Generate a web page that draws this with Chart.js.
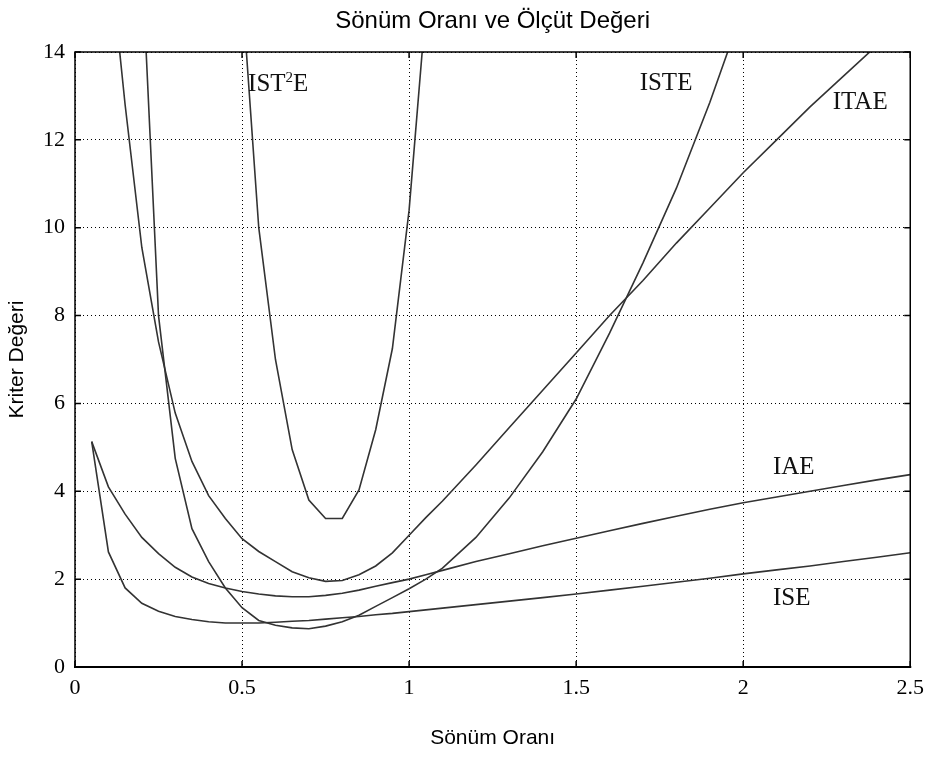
<!DOCTYPE html>
<html lang="tr">
<head>
<meta charset="utf-8">
<title>Sönüm Oranı ve Ölçüt Değeri</title>
<script src="https://cdn.jsdelivr.net/npm/chart.js@4.4.1/dist/chart.umd.min.js"></script>
<style>
  html, body { margin: 0; padding: 0; background: #fff; }
  #wrap { width: 932px; height: 762px; position: relative; }
</style>
</head>
<body>
<div id="wrap"><canvas id="criteria"></canvas></div>
<script>
// damping ratio samples (x axis)
const zeta = [0.05, 0.1, 0.15, 0.2, 0.25, 0.3, 0.35, 0.4, 0.45, 0.5,
              0.55, 0.6, 0.65, 0.7, 0.75, 0.8, 0.85, 0.9, 0.95, 1.0,
              1.05, 1.1, 1.2, 1.3, 1.4, 1.5, 1.6, 1.7, 1.8, 1.9,
              2.0, 2.1, 2.2, 2.3, 2.4, 2.5];

// performance index values for each criterion
const ise   = [5.13, 2.62, 1.8, 1.45, 1.27, 1.15, 1.08, 1.03, 1.0, 1.0,
               1.0, 1.02, 1.04, 1.06, 1.09, 1.12, 1.15, 1.19, 1.22, 1.26,
               1.30, 1.34, 1.42, 1.5, 1.58, 1.66, 1.75, 1.84, 1.93, 2.02,
               2.12, 2.21, 2.3, 2.4, 2.5, 2.6];
const iae   = [5.13, 4.1, 3.48, 2.95, 2.58, 2.27, 2.05, 1.9, 1.8, 1.72,
               1.66, 1.62, 1.6, 1.6, 1.63, 1.68, 1.75, 1.84, 1.92, 2.0,
               2.1, 2.2, 2.4, 2.58, 2.76, 2.93, 3.1, 3.27, 3.43, 3.59,
               3.74, 3.87, 4.0, 4.13, 4.26, 4.38];
const itae  = [null, 16.5, 12.8, 9.55, 7.4, 5.78, 4.68, 3.9, 3.38, 2.92,
               2.63, 2.4, 2.17, 2.03, 1.95, 1.97, 2.1, 2.3, 2.6, 3.0,
               3.4, 3.78, 4.6, 5.45, 6.3, 7.15, 8.0, 8.8, 9.65, 10.45,
               11.25, 12.0, 12.75, 13.45, 14.15, 14.9];
const iste  = [null, null, null, 16.1, 8.0, 4.75, 3.15, 2.4, 1.8, 1.35,
               1.06, 0.95, 0.89, 0.87, 0.93, 1.03, 1.18, 1.38, 1.58, 1.78,
               2.0, 2.25, 2.95, 3.85, 4.9, 6.1, 7.6, 9.2, 10.9, 12.85,
               15.0, null, null, null, null, null];
const ist2e = [null, null, null, null, null, null, null, null, null, 15.4,
               10.0, 7.0, 4.95, 3.8, 3.38, 3.38, 4.03, 5.4, 7.25, 10.4,
               15.0, null, null, null, null, null, null, null, null, null,
               null, null, null, null, null, null];

const xTickLabels = ['0', '0.5', '1', '1.5', '2', '2.5'];
const yTickLabels = ['0', '2', '4', '6', '8', '10', '12', '14'];

// curve names written next to each line (data coordinates of left/middle)
const curveNotes = [
  { text: 'IST', sup: '2', tail: 'E', x: 0.518, y: 13.27 },
  { text: 'ISTE', x: 1.69, y: 13.29 },
  { text: 'ITAE', x: 2.268, y: 12.86 },
  { text: 'IAE', x: 2.089, y: 4.55 },
  { text: 'ISE', x: 2.089, y: 1.57 }
];

const serif = "'Liberation Serif', 'Times New Roman', serif";
const sans = "'Liberation Sans', Arial, sans-serif";

function toPoints(values) {
  return zeta.map((z, i) => ({ x: z, y: values[i] }));
}

function lineSet(label, values) {
  return {
    label: label,
    data: toPoints(values),
    borderColor: '#333333',
    borderWidth: 1.6,
    pointRadius: 0,
    tension: 0,
    spanGaps: false
  };
}

// box around the plot with inward tick marks on every side
const framePlugin = {
  id: 'frame',
  afterDatasetsDraw(chart) {
    const { ctx, chartArea: a, scales } = chart;
    ctx.save();
    ctx.strokeStyle = '#000';
    ctx.lineWidth = 1.5;
    ctx.strokeRect(a.left, a.top, a.right - a.left, a.bottom - a.top);
    ctx.lineWidth = 2;
    ctx.beginPath();
    ctx.moveTo(a.left - 1, a.bottom);
    ctx.lineTo(a.right + 1, a.bottom);
    ctx.stroke();
    ctx.lineWidth = 1.5;
    const len = 6;
    ctx.beginPath();
    scales.x.ticks.forEach(t => {
      const px = scales.x.getPixelForValue(t.value);
      ctx.moveTo(px, a.bottom); ctx.lineTo(px, a.bottom - len);
      ctx.moveTo(px, a.top); ctx.lineTo(px, a.top + len);
    });
    scales.y.ticks.forEach(t => {
      const py = scales.y.getPixelForValue(t.value);
      ctx.moveTo(a.left, py); ctx.lineTo(a.left + len, py);
      ctx.moveTo(a.right, py); ctx.lineTo(a.right - len, py);
    });
    ctx.stroke();
    ctx.restore();
  }
};

// names of the criteria beside their curves
const notesPlugin = {
  id: 'notes',
  afterDatasetsDraw(chart) {
    const { ctx, scales } = chart;
    ctx.save();
    ctx.fillStyle = '#111';
    ctx.textBaseline = 'middle';
    ctx.textAlign = 'left';
    curveNotes.forEach(n => {
      let px = scales.x.getPixelForValue(n.x);
      const py = scales.y.getPixelForValue(n.y);
      ctx.font = '25px ' + serif;
      ctx.fillText(n.text, px, py);
      if (n.sup) {
        px += ctx.measureText(n.text).width;
        ctx.font = '15px ' + serif;
        ctx.fillText(n.sup, px, py - 6);
        px += ctx.measureText(n.sup).width;
        ctx.font = '25px ' + serif;
        ctx.fillText(n.tail, px, py);
      }
    });
    ctx.restore();
  }
};

const ctx = document.getElementById('criteria').getContext('2d');
const chart = new Chart(ctx, {
  type: 'line',
  data: {
    datasets: [
      lineSet('ISE', ise),
      lineSet('IAE', iae),
      lineSet('ITAE', itae),
      lineSet('ISTE', iste),
      lineSet('IST2E', ist2e)
    ]
  },
  options: {
    responsive: true,
    maintainAspectRatio: false,
    animation: false,
    layout: { padding: { left: 0, right: 17, top: 0, bottom: 0 } },
    plugins: {
      legend: { display: false },
      tooltip: { enabled: false },
      title: {
        display: true,
        fullSize: false,
        text: 'Sönüm Oranı ve Ölçüt Değeri',
        color: '#000',
        font: { family: sans, size: 24, weight: 'normal', lineHeight: 1.2 },
        padding: { top: 7, bottom: 16.2 }
      }
    },
    scales: {
      x: {
        type: 'linear',
        min: 0,
        max: 2.5,
        afterFit: s => { s.height = 95; },
        ticks: {
          stepSize: 0.5,
          color: '#000',
          padding: 8,
          font: { family: serif, size: 22 },
          callback: v => xTickLabels[Math.round(v / 0.5)]
        },
        grid: { color: '#000', lineWidth: 1, drawTicks: false },
        border: { display: false, dash: [1, 3] },
        title: {
          display: true,
          text: 'Sönüm Oranı',
          color: '#000',
          font: { family: sans, size: 21 },
          padding: { top: 0, bottom: 11 }
        }
      },
      y: {
        min: 0,
        max: 14,
        afterFit: s => { s.width = 75; },
        ticks: {
          stepSize: 2,
          color: '#000',
          padding: 10,
          font: { family: serif, size: 22 },
          callback: v => yTickLabels[Math.round(v / 2)]
        },
        grid: { color: '#000', lineWidth: 1, drawTicks: false },
        border: { display: false, dash: [1, 3] },
        title: {
          display: true,
          text: 'Kriter Değeri',
          color: '#000',
          font: { family: sans, size: 21 },
          padding: { top: 5, bottom: 0 }
        }
      }
    }
  },
  plugins: [framePlugin, notesPlugin]
});
</script>
</body>
</html>
